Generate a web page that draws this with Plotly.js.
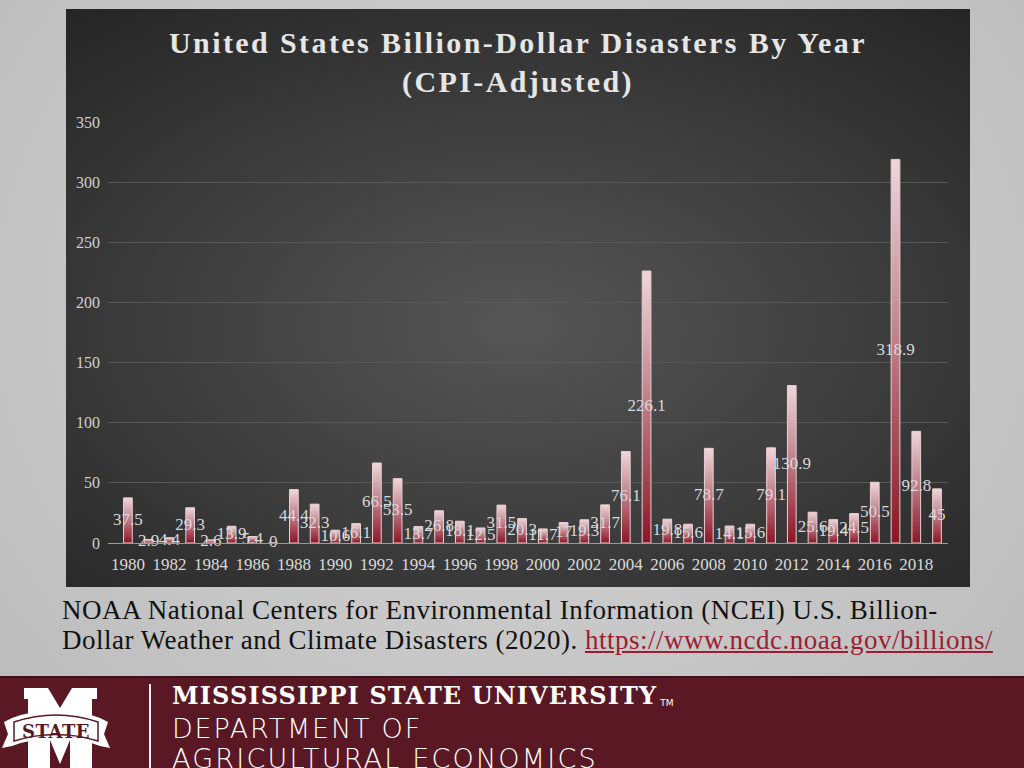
<!DOCTYPE html>
<html>
<head>
<meta charset="utf-8">
<script src="https://cdn.plot.ly/plotly-3.0.1.min.js"></script>
<style>
  html, body { margin:0; padding:0; }
  body { width:1024px; height:768px; position:relative; overflow:hidden;
         background: radial-gradient(ellipse at 50% 40%, #d4d4d4 0%, #c6c6c6 60%, #b9b9b9 100%);
         font-family: "Liberation Serif", "DejaVu Serif", serif; }
  #panel { position:absolute; left:66px; top:9px; width:904px; height:578px;
           background: radial-gradient(ellipse 75% 70% at 50% 55%, #565656 0%, #3c3c3c 55%, #262626 100%); }
  #chart { position:absolute; left:0; top:0; width:904px; height:578px; }
  #chart .gtitle { letter-spacing: 2.4px; }
  #cite { position:absolute; left:62px; top:595px; width:960px; font-size:27px; line-height:30px; color:#111; letter-spacing:0.5px; white-space:nowrap; }
  #cite a { color:#9b1c33; text-decoration: underline; }
  #footer { position:absolute; left:0; top:676px; width:1024px; height:92px; background:#5a1824;
            border-top:2px solid #3e0f18; overflow:hidden; }
  #vline { position:absolute; left:149px; top:6px; width:2px; height:90px; background:#f2f2f2; }
  .ft { position:absolute; left:172px; color:#fff; white-space:nowrap; }
  #msu { top:3px; font-family:"DejaVu Serif", serif; font-weight:bold; font-size:24px; letter-spacing:1.1px; }
  #msu sup { font-family:"DejaVu Sans"; font-weight:normal; font-size:9px; letter-spacing:0; vertical-align: -2px; margin-left:3px; }
  #dept { top:35px; font-family:"DejaVu Sans", sans-serif; font-weight:200; font-size:27px; letter-spacing:1.8px; }
  #agec { top:65px; font-family:"DejaVu Sans", sans-serif; font-weight:200; font-size:27px; letter-spacing:2.2px; }
  #logo { position:absolute; left:0; top:0; }
</style>
</head>
<body>
<div id="panel"><div id="chart"></div></div>
<div id="cite">NOAA National Centers for Environmental Information (NCEI) U.S. Billion-<br>Dollar Weather and Climate Disasters (2020). <a href="https://www.ncdc.noaa.gov/billions/">https://www.ncdc.noaa.gov/billions/</a></div>
<div id="footer">
  <svg id="logo" width="150" height="90" viewBox="0 0 150 90">
    <polygon points="24,10 48,10 60,30 72,10 97,10 97,21 92,21 92,92 70,92 70,62 60,86 50,62 50,92 28,92 28,21 24,21" fill="#ffffff"/>
    <path d="M4,44 L12,40 Q56,24 100,40 L108,44 L104,56 L110,70 L100,68 Q56,52 12,68 L2,70 L8,56 Z" fill="#ffffff"/>
    <path d="M14,44 Q56,30 98,44 L98,63 Q56,50 14,63 Z" fill="none" stroke="#5a1824" stroke-width="1.5"/>
    <text x="56" y="60" text-anchor="middle" font-family="DejaVu Serif" font-weight="bold" font-size="18" fill="#5a1824" letter-spacing="0.5">STATE</text>
  </svg>
  <div id="vline"></div>
  <div class="ft" id="msu">MISSISSIPPI STATE UNIVERSITY<sup>TM</sup></div>
  <div class="ft" id="dept">DEPARTMENT OF</div>
  <div class="ft" id="agec">AGRICULTURAL ECONOMICS</div>
</div>
<script>
// Data
const years = [1980,1981,1982,1983,1984,1985,1986,1987,1988,1989,
               1990,1991,1992,1993,1994,1995,1996,1997,1998,1999,
               2000,2001,2002,2003,2004,2005,2006,2007,2008,2009,
               2010,2011,2012,2013,2014,2015,2016,2017,2018,2019];
const costs = [37.5,2.9,4.4,29.3,2.6,13.9,5.4,0,44.4,32.3,
               10.6,16.1,66.5,53.5,13.7,26.8,18.1,12.5,31.5,20.3,
               11.7,17,19.3,31.7,76.1,226.1,19.8,15.6,78.7,14.1,
               15.6,79.1,130.9,25.6,19.4,24.5,50.5,318.9,92.8,45];
const tickYears = [1980,1982,1984,1986,1988,1990,1992,1994,1996,1998,
                   2000,2002,2004,2006,2008,2010,2012,2014,2016,2018];
const yTicks = [0,50,100,150,200,250,300,350];

const serif = "Liberation Serif, DejaVu Serif, serif";

const bars = {
  type:'bar', x: years, y: costs,
  marker:{ color:'#ad5d6a', line:{color:'#e9cfd3', width:1} },
  width: 0.42, hoverinfo:'x+y', showlegend:false
};
const labels = {
  type:'scatter', mode:'text', x: years, y: costs.map(v => v/2),
  text: costs.map(v => String(v)), textposition:'middle center',
  textfont:{ family: serif, size:17, color:'#d9d9d9' },
  hoverinfo:'skip', showlegend:false, cliponaxis:false
};

const layout = {
  width:904, height:578,
  paper_bgcolor:'rgba(0,0,0,0)', plot_bgcolor:'rgba(0,0,0,0)',
  margin:{ l:42, r:22, t:113, b:44 },
  title:{ text:'<b>United States Billion-Dollar Disasters By Year<br>(CPI-Adjusted)</b>',
          font:{ family: serif, size:30, color:'#e6e6e6' },
          x:0.5, xanchor:'center', y:0.924, yanchor:'top' },
  xaxis:{ type:'linear', range:[1979.04, 2019.53], tickvals: tickYears, ticktext: tickYears.map(String),
          showgrid:false, zeroline:false, showline:true, linecolor:'#9a9a9a', linewidth:1,
          ticks:'', tickfont:{ family: serif, size:17, color:'#dadada' }, ticklabelstandoff:6 },
  yaxis:{ range:[0,350], tickvals: yTicks, ticktext: yTicks.map(String),
          showgrid:true, gridcolor:'#585858', gridwidth:1, zeroline:false, showline:false,
          ticks:'', tickfont:{ family: serif, size:16, color:'#d0d0d0' }, ticklabelstandoff:7 },
  bargap:0.6, font:{ family: serif }
};

Plotly.newPlot('chart', [bars, labels], layout, { displayModeBar:false, staticPlot:true }).then(gd => {
  // vertical gradient fill for the bars drawn by Plotly
  const svgNS = 'http://www.w3.org/2000/svg';
  const defs = gd.querySelector('svg.main-svg defs');
  if (!defs) return;
  const grad = document.createElementNS(svgNS, 'linearGradient');
  grad.setAttribute('id', 'barGrad');
  grad.setAttribute('x1', '0'); grad.setAttribute('y1', '0');
  grad.setAttribute('x2', '0'); grad.setAttribute('y2', '1');
  [['0%', '#eed6da'], ['40%', '#c68e97'], ['100%', '#8c1526']].forEach(([o, c]) => {
    const s = document.createElementNS(svgNS, 'stop');
    s.setAttribute('offset', o); s.setAttribute('stop-color', c);
    grad.appendChild(s);
  });
  defs.appendChild(grad);
  gd.querySelectorAll('.trace.bars .point path').forEach(p => { p.style.fill = 'url(#barGrad)'; });
});
</script>
</body>
</html>
